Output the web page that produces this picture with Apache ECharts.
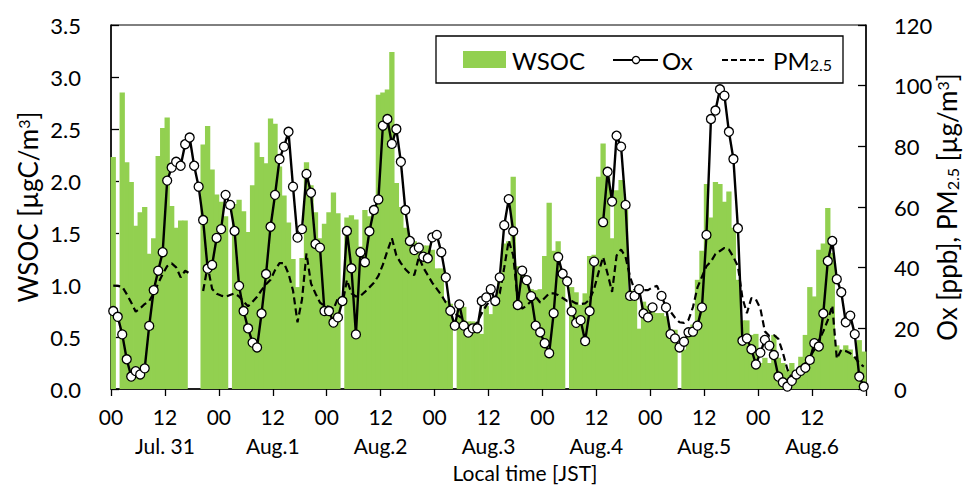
<!DOCTYPE html>
<html>
<head>
<meta charset="utf-8">
<script src="https://cdn.jsdelivr.net/npm/echarts@6.0.0/dist/echarts.min.js"></script>
<style>
  html, body { margin: 0; padding: 0; background: #fff; }
  #chart { width: 979px; height: 487px; }
</style>
</head>
<body>
<div id="chart"></div>
<script>
// Hourly observations, Jul. 31 00:00 JST to Aug. 6 23:00 JST (168 hours).
// null marks an hour without a measurement.
const FONT = 'Lato, "Noto Sans", sans-serif';

const dayLabels = ['Jul. 31', 'Aug.1', 'Aug.2', 'Aug.3', 'Aug.4', 'Aug.5', 'Aug.6'];
const hourLabels = ['00', '12'];

// WSOC [µgC/m3]
const wsoc = [
  2.23, null, 2.85, 2.18, 1.99, 1.57, 1.70, 1.75, 1.30, 1.45,
  2.24, 2.51, 2.61, 1.76, 1.55, 1.62, 1.62, null, null, null,
  2.35, 2.53, 2.11, 1.87, 1.80, 1.66, null, 1.78, 1.82, 1.71,
  1.51, 1.96, 2.37, 2.23, 2.17, 2.60, 2.55, 2.14, 1.86, 1.60,
  1.25, 0.98, 1.26, 2.18, 1.96, 1.70, 1.45, 1.59, 1.70, 1.89,
  1.69, null, 1.65, 1.67, 1.63, 1.37, 1.72, 1.66, 1.72, 2.83,
  2.85, 2.88, 3.24, 1.98, 1.75, 1.55, 1.45, 1.42, 1.40, 1.38,
  1.38, 1.34, 1.16, 1.16, 0.85, 0.82, null, 0.79, 0.79, 0.65,
  0.65, 0.62, 0.53, 0.80, 0.72, 0.82, 1.07, 1.40, 1.42, 2.04,
  1.18, 1.16, 1.02, 0.96, 0.95, 0.96, 1.28, 1.79, 1.33, 1.42,
  1.06, null, 0.98, 0.93, 0.81, 0.92, 1.28, 1.29, 2.04, 2.36,
  2.04, 1.45, 1.91, 2.01, 1.72, 0.95, 0.89, 0.58, 0.84, 0.80,
  0.76, 0.73, 0.73, 0.70, 0.57, 0.57, null, 0.38, 0.55, 0.62,
  1.05, 1.33, 1.97, 1.65, 1.99, 1.97, 1.80, 1.90, 1.55, 1.05,
  0.66, 0.66, 0.52, 0.53, 0.25, 0.30, 0.25, 0.52, 0.30, 0.25,
  0.18, 0.25, 0.10, 0.31, 0.52, 0.98, 0.89, 1.34, 1.40, 1.74,
  1.31, 0.42, 0.38, 0.42, 0.38, 0.31, 0.47, 0.36
];

// Ox [ppb]
const ox = [
  25.7, 23.8, 18.0, 9.8, 4.1, 5.9, 4.8, 6.8, 20.8, 32.6,
  39.0, 45.1, 68.7, 73.0, 74.9, 73.6, 80.7, 82.9, 73.6, 66.7,
  55.7, 39.7, 40.9, 49.8, 52.7, 64.0, 60.7, 52.1, 34.0, 25.7,
  20.0, 15.3, 13.7, 24.9, 37.9, 53.5, 64.0, 75.8, 79.9, 84.8,
  66.7, 49.9, 52.7, 70.9, 64.7, 47.8, 46.6, 25.7, 25.7, 21.9,
  23.6, 29.0, 52.1, 39.8, 18.0, 45.1, 41.8, 52.0, 59.0, 62.5,
  86.8, 89.0, 80.8, 85.7, 74.9, 59.0, 48.8, 45.8, 46.6, 43.6,
  43.1, 50.0, 50.8, 45.1, 36.8, 25.8, 20.9, 27.9, 20.9, 18.6,
  20.0, 20.0, 29.0, 30.2, 32.9, 29.0, 36.8, 54.0, 62.6, 52.0,
  27.7, 39.0, 35.9, 30.6, 20.9, 18.7, 15.1, 11.8, 25.0, 43.5,
  38.0, 35.5, 25.6, 21.8, 22.7, 15.8, 25.7, 42.0, null, 55.0,
  71.6, 61.8, 83.5, 79.9, 60.7, 30.7, 30.7, 32.9, 24.9, 23.6,
  26.9, null, 30.7, 26.9, 18.1, 16.7, 13.7, 15.6, 18.7, 18.9,
  20.9, 26.9, 50.8, 89.0, 91.8, 98.8, 96.7, 84.8, 75.8, 53.0,
  15.9, 16.7, 13.1, 8.1, 12.0, 16.2, 14.3, 11.2, 4.1, 2.2,
  0.8, 2.7, 4.8, 6.0, 7.0, 9.6, 15.1, 14.0, 24.9, 42.2,
  48.8, 36.2, 31.9, 22.0, 24.2, 18.1, 4.1, 0.8
];

// PM2.5 [µg/m3]
const pm25 = [
  34.1, 34.0, 33.7, 31.3, 28.5, 25.5, 26.6, 28.0, 29.0, 31.5,
  34.8, 37.9, 40.5, 41.4, 40.1, 36.8, 39.0, 38.1, null, null,
  32.3, 40.5, 33.0, 31.4, 30.8, 30.4, 31.0, 31.5, 30.5, 28.8,
  27.3, 28.8, 30.4, 32.6, 34.5, 36.0, 39.2, 41.5, 41.5, 38.0,
  32.5, 22.0, 29.5, 44.7, 34.8, 31.5, 28.5, 27.4, 27.1, 26.3,
  30.0, 28.0, 36.0, 31.5, 30.5, 30.7, 32.0, 33.5, 35.0, 37.3,
  41.0, 45.5, 49.7, 44.0, 41.5, 39.5, 38.0, 37.6, 43.5, 40.0,
  37.5, 35.0, 33.0, 31.0, 28.5, 27.0, 24.8, 24.0, 22.5, 20.8,
  20.5, 22.0, 25.0, 27.5, 29.5, 30.0, 31.5, 40.0, 49.0, 44.0,
  29.0, 26.5, 27.5, 29.0, 30.4, 28.5, 30.0, 31.5, 31.5, 31.0,
  30.0, 29.0, 29.0, 28.2, 28.0, 28.2, 29.5, 33.0, 38.5, 43.5,
  38.0, 32.0, 44.0, 46.0, 43.5, 37.0, 32.6, 32.6, 32.6, 32.6,
  33.5, 34.0, 30.4, 28.0, 25.5, 23.5, 22.0, 21.8, 22.8, 27.0,
  33.5, 37.0, 40.5, 42.0, 44.5, 45.5, 46.5, 46.0, 43.5, 40.5,
  30.0, 25.0, 30.0, 29.5, 26.5, 19.0, 17.5, 17.8, 16.5, 12.0,
  6.5, 3.8, 5.0, 6.8, 8.5, 10.5, 13.0, 16.0, 19.0, 22.7,
  27.5, 10.0, 12.9, 12.5, 11.8, 10.5, 8.5, 7.4
];

// line points sit at the middle of each hour on the time axis
const atHour = vals => vals.map((v, i) => [i + 0.5, v]);
// hourly bars span [hour, hour + 1]
const hourSpans = vals => vals.map((v, i) => [i, v]);

const GREEN = '#92D050';
const txt = { fontFamily: FONT, color: '#000' };

// Hourly WSOC columns: each one fills its full hour so neighbouring hours touch
// with no seam; a tiny overdraw hides antialiasing hairlines.
function renderHourBar(params, api) {
  const v = api.value(1);
  if (v == null || isNaN(v)) return null;
  const h = api.value(0);
  const top = api.coord([h, v]);
  const base = api.coord([h + 1, 0]);
  return {
    type: 'rect',
    shape: { x: top[0] - 0.4, y: top[1], width: base[0] - top[0] + 0.8, height: base[1] - top[1] },
    style: { fill: GREEN }
  };
}

const chart = echarts.init(document.getElementById('chart'), null, { renderer: 'svg' });

chart.setOption({
  animation: false,
  backgroundColor: '#fff',
  textStyle: { fontFamily: FONT },
  grid: {
    left: 111, right: 113, top: 25, bottom: 98,
    show: true, borderColor: '#000', borderWidth: 1,
    outerBoundsMode: 'none'
  },
  xAxis: {
    type: 'value', min: 0, max: 168, interval: 12,
    axisLine: { show: true, lineStyle: { color: '#000', width: 1.5 } },
    axisTick: { show: true, length: 7, lineStyle: { color: '#000', width: 1.3 } },
    splitLine: { show: false },
    axisLabel: {
      ...txt, fontSize: 21, margin: 13, lineHeight: 28,
      formatter: v => {
        if (v >= 168) return '';
        if (v % 24 === 0) return hourLabels[0];
        return hourLabels[1] + '\n{day|' + dayLabels[Math.floor(v / 24)] + '}';
      },
      rich: { day: { ...txt, fontSize: 21, lineHeight: 30 } }
    },
    name: 'Local time [JST]',
    nameLocation: 'middle',
    nameGap: 72,
    nameMoveOverlap: false,
    nameTextStyle: { ...txt, fontSize: 21, lineHeight: 22, padding: [0, 0, 0, 73] }
  },
  yAxis: [
    {
      type: 'value', position: 'left', min: 0, max: 3.5, interval: 0.5,
      axisLine: { show: true, lineStyle: { color: '#000', width: 1.5 } },
      axisTick: { show: true, inside: true, length: 8, lineStyle: { color: '#000', width: 1.3 } },
      splitLine: { show: false },
      axisLabel: { ...txt, fontSize: 22, margin: 30, formatter: v => v.toFixed(1) },
      name: 'WSOC [µgC/m{sup|3}]',
      nameLocation: 'middle', nameRotate: 90, nameGap: 70,
      nameMoveOverlap: false,
      nameTextStyle: {
        ...txt, fontSize: 26,
        rich: { sup: { ...txt, fontSize: 16, verticalAlign: 'top' } }
      }
    },
    {
      type: 'value', position: 'right', min: 0, max: 120, interval: 20,
      axisLine: { show: true, lineStyle: { color: '#000', width: 1.5 } },
      axisTick: { show: true, inside: true, length: 8, lineStyle: { color: '#000', width: 1.3 } },
      splitLine: { show: false },
      axisLabel: { ...txt, fontSize: 22, margin: 28 },
      name: 'Ox [ppb], PM{sub|2.5} [µg/m{sup|3}]',
      nameLocation: 'middle', nameRotate: 90, nameGap: 68,
      nameMoveOverlap: false,
      nameTextStyle: {
        ...txt, fontSize: 26,
        rich: {
          sub: { ...txt, fontSize: 16, verticalAlign: 'bottom' },
          sup: { ...txt, fontSize: 16, verticalAlign: 'top' }
        }
      }
    }
  ],
  series: [
    {
      name: 'WSOC', type: 'custom', yAxisIndex: 0,
      data: hourSpans(wsoc),
      encode: { x: 0, y: 1 },
      renderItem: renderHourBar,
      z: 2
    },
    {
      name: 'PM2.5', type: 'line', yAxisIndex: 1,
      data: atHour(pm25),
      symbol: 'none',
      lineStyle: { color: '#000', width: 2.2, type: [7, 4] },
      z: 3
    },
    {
      name: 'Ox', type: 'line', yAxisIndex: 1,
      data: atHour(ox),
      symbol: 'circle', symbolSize: 9,
      itemStyle: { color: '#fff', borderColor: '#000', borderWidth: 1.3 },
      lineStyle: { color: '#000', width: 2.4 },
      z: 4
    }
  ],
  graphic: [
    {
      type: 'group', z: 100,
      children: [
        { type: 'rect', shape: { x: 436, y: 36, width: 407, height: 47 },
          style: { fill: '#fff', stroke: '#000', lineWidth: 1.3 } },
        { type: 'rect', shape: { x: 463, y: 51, width: 43, height: 17 },
          style: { fill: GREEN } },
        { type: 'text', x: 512, y: 60,
          style: { text: 'WSOC', fontFamily: FONT, fontSize: 24, fill: '#000', verticalAlign: 'middle' } },
        { type: 'line', shape: { x1: 613, y1: 60, x2: 658, y2: 60 },
          style: { stroke: '#000', lineWidth: 2 } },
        { type: 'circle', shape: { cx: 636, cy: 60, r: 3.6 },
          style: { fill: '#fff', stroke: '#000', lineWidth: 1.2 } },
        { type: 'text', x: 662, y: 60,
          style: { text: 'Ox', fontFamily: FONT, fontSize: 24, fill: '#000', verticalAlign: 'middle' } },
        { type: 'line', shape: { x1: 722, y1: 60, x2: 765, y2: 60 },
          style: { stroke: '#000', lineWidth: 2, lineDash: [6, 3] } },
        { type: 'text', x: 773, y: 60,
          style: {
            text: 'PM{sub|2.5}', fontFamily: FONT, fontSize: 24, fill: '#000', verticalAlign: 'middle',
            rich: { sub: { fontFamily: FONT, fontSize: 16, fill: '#000', verticalAlign: 'bottom' } }
          } }
      ]
    }
  ]
});
</script>
</body>
</html>
